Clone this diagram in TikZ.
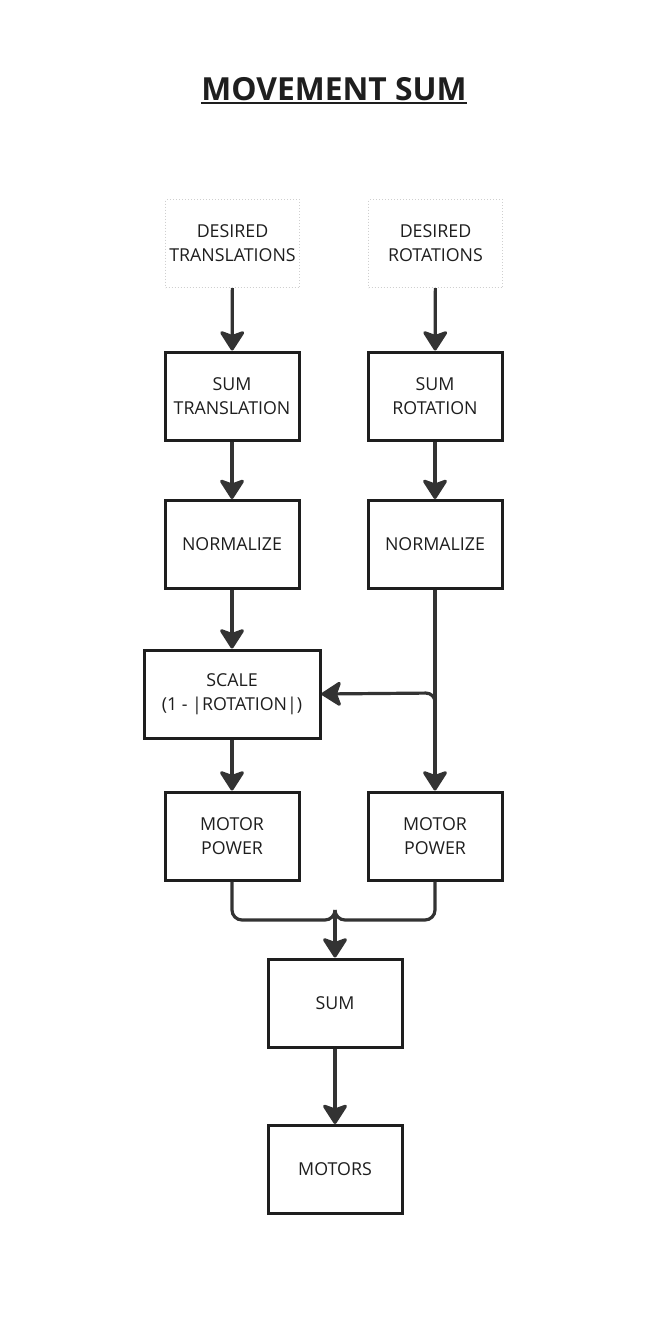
\documentclass[tikz,border=0pt]{standalone}
\usepackage{fontspec}
\setmainfont{Open Sans}
\usetikzlibrary{arrows.meta}
\definecolor{ink}{HTML}{1E1E1E}
\definecolor{lnk}{HTML}{333333}
\definecolor{dotc}{HTML}{CFCFCF}
\tikzset{
  box/.style={draw=ink, line width=3pt, minimum width=134pt, minimum height=88pt,
    align=center, font=\fontsize{17.8}{24}\selectfont, text=ink, inner sep=0pt},
  inbox/.style={box, draw=dotc, line width=1pt, dotted},
  conn/.style={draw=lnk, line width=3.2pt, -{Stealth[length=22pt,width=28pt,inset=5pt,round]}},
  plain/.style={draw=lnk, line width=3.2pt},
}
\begin{document}
\begin{tikzpicture}[x=1pt,y=-1pt]
\useasboundingbox[fill=white] (0,0) rectangle (667,1317);
\node[anchor=base, font=\bfseries\fontsize{31.8}{36}\selectfont, text=ink, inner sep=0pt] (title) at (334,100) {MOVEMENT SUM};
\draw[ink, line width=2.5pt] ([yshift=-3pt]title.base west) -- ([yshift=-3pt]title.base east);

\node[inbox] (dt) at (232.5,243.5) {DESIRED\\TRANSLATIONS};
\node[inbox] (dr) at (435.5,243.5) {DESIRED\\ROTATIONS};
\node[box] (st) at (232,396) {SUM\\TRANSLATION};
\node[box] (sr) at (435,396) {SUM\\ROTATION};
\node[box] (nl) at (232,544.5) {NORMALIZE};
\node[box] (nr) at (435,544.5) {NORMALIZE};
\node[box, minimum width=176pt] (sc) at (232,694) {SCALE\\(1 - |ROTATION|)};
\node[box] (ml) at (232,836) {MOTOR\\POWER};
\node[box] (mr) at (435,836) {MOTOR\\POWER};
\node[box] (sum) at (335,1003) {SUM};
\node[box] (mot) at (335,1169.5) {MOTORS};

\coordinate (br) at (435,693);
\coordinate (mj) at (335,920);

\draw[conn] (dt) -- (st);
\draw[conn] (dr) -- (sr);
\draw[conn] (st) -- (nl);
\draw[conn] (sr) -- (nr);
\draw[conn] (nl) -- (sc);
\draw[conn] (sc) -- (ml);
\draw[conn] (nr) -- (mr);
\draw[conn, rounded corners=9pt] ([yshift=-20pt]br) -- (br) -- (sc.east);
\draw[plain, rounded corners=10pt] (ml.south) |- (mj) -- ([yshift=10pt]mj);
\draw[plain, rounded corners=10pt] (mr.south) |- (mj) -- ([yshift=10pt]mj);
\draw[conn] ([yshift=8pt]mj) -- (sum);
\draw[conn] (sum) -- (mot);
\end{tikzpicture}
\end{document}
